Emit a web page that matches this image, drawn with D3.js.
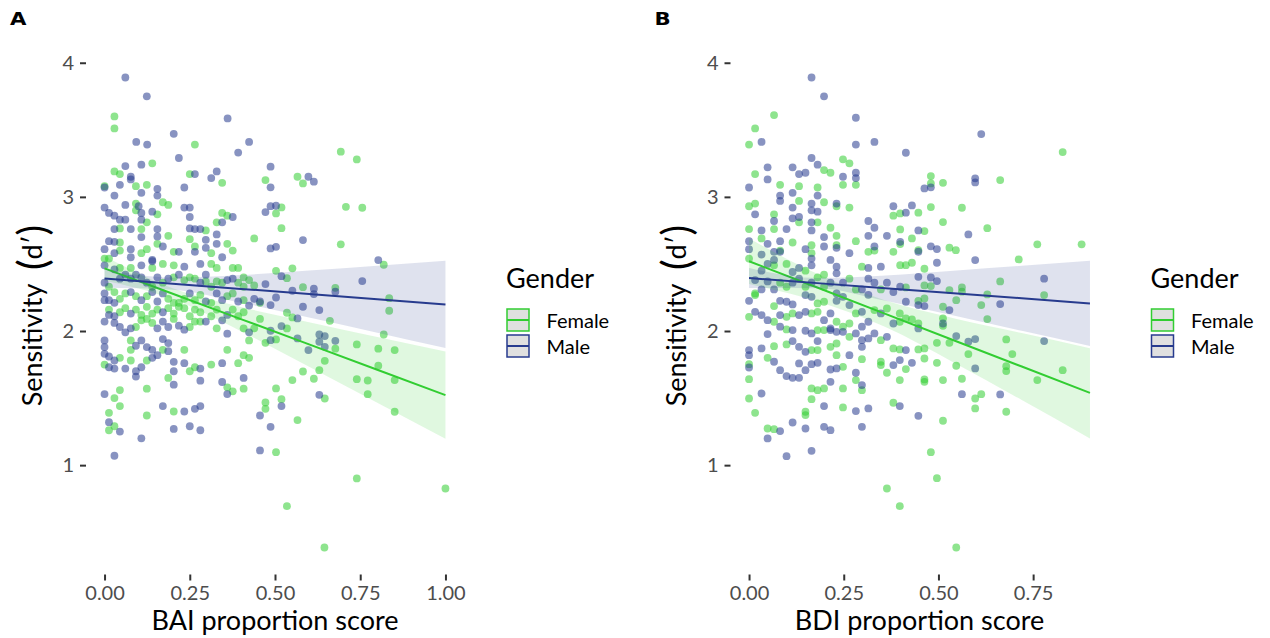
<!DOCTYPE html>
<html><head><meta charset="utf-8">
<script src="https://cdn.jsdelivr.net/npm/d3@7"></script>
<style>body{margin:0;background:#fff}svg text{font-family:Lato,"Open Sans",sans-serif}</style>
</head><body><svg id="c" width="1270" height="638"></svg>
<script>
const genders = ["Female", "Male"];
const genderColors = ["#32CD32", "#273B8E"];
const yTicks = [1, 2, 3, 4];
const baiTicks = [0, 0.25, 0.5, 0.75, 1];
const bdiTicks = [0, 0.25, 0.5, 0.75];
const baiRange = [0, 1];
const bdiRange = [0, 0.9];

const baiFemale = [[0.029,3.60],[0.029,3.51],[0.265,3.39],[0.140,3.25],[0.029,3.19],[0.045,3.17],[0.092,3.08],[0.124,3.09],[0.250,3.17],[0.345,3.105],[0,3.08],[0.092,2.95],[0.092,2.90],[0.124,2.81],[0.155,2.87],[0.171,2.96],[0.187,2.94],[0.345,2.88],[0.360,2.86],[0.329,2.81],[0.297,2.75],[0.250,2.685],[0.187,2.71],[0.108,2.76],[0.045,2.765],[0.045,2.66],[0.045,2.60],[0.108,2.58],[0.124,2.61],[0.155,2.65],[0.203,2.59],[0.265,2.63],[0.313,2.58],[0.360,2.65],[0.376,2.60],[0.439,2.69],[0,2.54],[0.013,2.54],
[0.045,2.47],[0.077,2.47],[0.140,2.47],[0.171,2.50],[0.203,2.49],[0.313,2.50],[0.329,2.47],[0.376,2.47],[0.392,2.47],[0.408,2.40],[0.013,2.33],[0.029,2.29],[0.140,2.33],[0.171,2.36],[0.203,2.40],[0.234,2.38],[0.250,2.40],[0.265,2.39],[0.297,2.37],[0.313,2.33],[0.329,2.37],[0.345,2.36],[0.392,2.36],[0.408,2.33],[0.424,2.38],[0.439,2.34],[0.045,2.24],[0.061,2.28],[0.092,2.26],[0.124,2.26],[0.187,2.24],[0.203,2.21],[0.218,2.21],[0.234,2.24],[0.265,2.23],[0.281,2.27],[0.313,2.21],[0.360,2.26],[0.376,2.28],[0.408,2.23],[0.456,2.21],[0.013,2.16],[0.045,2.14],[0.061,2.17],[0.092,2.16],[0.108,2.12],[0.124,2.18],[0.140,2.13],[0.155,2.16],[0.187,2.17],[0.203,2.13],[0.218,2.18],[0.234,2.17],[0.250,2.11],[0.265,2.16],[0.281,2.14],[0.313,2.11],[0.329,2.16],[0.376,2.16],[0.392,2.11],[0.408,2.14],[0.456,2.09],[0.092,2.03],[0.108,2.08],[0.124,2.09],[0.140,2.06],[0.203,2.09],[0.250,2.03],[0.265,2.07],[0.281,2.07],[0.329,2.02],[0.408,2.02],[0.439,2.02],[0,1.75],[0.077,1.93],[0.077,1.86],[0.171,1.86],[0.077,1.78],[0.045,1.80],[0.124,1.78],[0.234,1.86],[0.250,1.70],[0.265,1.73],[0.313,1.75],[0.360,1.86],[0.392,1.76],[0.408,1.82],[0.424,1.80],[0.424,1.93],[0.187,1.65],[0.029,1.50],[0.045,1.56],[0.124,1.57],[0.360,1.58],[0.376,1.55],[0.408,1.57],[0.013,1.39],[0.045,1.44],[0.203,1.40],[0.124,1.37],[0.029,1.29],[0.013,1.26],
[0.693,3.337],[0.740,3.279],[0.472,3.125],[0.566,3.150],[0.582,3.100],[0.519,2.921],[0.503,2.877],[0.708,2.926],[0.756,2.919],[0.519,2.767],[0.693,2.646],[0.819,2.494],[0.503,2.449],[0.551,2.467],[0.535,2.394],[0.582,2.327],[0.677,2.322],[0.835,2.245],[0.835,2.151],[0.535,2.136],[0.551,2.101],[0.661,2.076],
[0.535,2.019],[0.472,1.912],[0.503,1.937],[0.677,1.868],[0.740,1.900],[0.803,1.868],[0.851,1.858],[0.819,1.974],[0.646,1.778],[0.630,1.708],[0.582,1.698],[0.614,1.644],[0.551,1.634],[0.740,1.641],[0.772,1.631],[0.803,1.741],[0.851,1.634],[0.772,1.529],[0.503,1.572],[0.472,1.467],[0.472,1.420],[0.519,1.492],[0.566,1.336],[0.646,1.497],[0.851,1.398],[0.503,1.097],[0.740,0.901],[1.000,0.826],[0.535,0.694],[0.645,0.386]];

const baiMale = [[0.061,3.89],[0.124,3.75],[0.361,3.585],[0.203,3.47],[0.093,3.41],[0.125,3.39],[0.392,3.33],[0.424,3.41],[0.218,3.29],[0.108,3.24],[0.061,3.23],[0.077,3.15],[0.077,3.13],[0.045,3.09],[0.234,3.07],[0.265,3.17],[0.313,3.14],[0.329,3.19],[0,3.07],[0.029,3.01],[0.108,3.03],[0.155,3.06],[0.155,3.01],[0.061,2.94],[0,2.92],[0.013,2.88],[0.029,2.86],[0.045,2.83],[0.061,2.83],[0.100,2.93],[0.108,2.88],[0.140,2.89],[0.108,2.83],[0.234,2.92],[0.250,2.92],[0.250,2.85],[0.376,2.85],[0.345,2.81],[0.250,2.765],[0.265,2.76],[0.281,2.76],[0.329,2.72],[0.297,2.68],[0.155,2.76],[0.155,2.705],[0.108,2.70],[0.077,2.76],[0.029,2.76],[0.029,2.665],[0.013,2.67],[0,2.61],[0.029,2.58],[0.077,2.61],[0.140,2.53],[0.077,2.55],[0.171,2.63],[0.218,2.59],[0.265,2.59],[0.297,2.62],[0.329,2.65],[0.345,2.55],
[0,2.49],[0.029,2.46],[0.108,2.49],[0.140,2.52],[0.234,2.48],[0.281,2.50],[0.297,2.42],[0,2.36],[0.045,2.39],[0.061,2.42],[0.077,2.39],[0.092,2.42],[0.108,2.40],[0.124,2.36],[0.155,2.40],[0.187,2.39],[0.218,2.42],[0.281,2.36],[0.360,2.38],[0.376,2.39],[0.456,2.22],[0,2.28],[0,2.23],[0.013,2.23],[0.029,2.21],[0.077,2.29],[0.108,2.23],[0.140,2.29],[0.155,2.22],[0.171,2.28],[0.250,2.28],[0.297,2.22],[0.329,2.28],[0.345,2.23],[0.392,2.22],[0.424,2.19],[0.439,2.24],[0.013,2.12],[0.029,2.11],[0.077,2.13],[0.171,2.14],[0.297,2.07],[0.345,2.08],[0.360,2.12],[0,2.07],[0.029,2.06],[0.045,2.03],[0.061,1.99],[0.077,2.02],[0.155,2.02],[0.171,2.07],[0.187,2.03],[0.218,2.04],[0.234,2.01],[0.360,1.98],[0.424,1.99],[0,1.93],[0,1.88],[0,1.83],[0.013,1.81],[0.029,1.78],[0.013,1.73],[0.029,1.72],[0.061,1.72],[0.092,1.89],[0.108,1.93],[0.124,1.88],[0.140,1.86],[0.155,1.82],[0.171,1.94],[0.187,1.91],[0.187,1.85],[0.092,1.70],[0.108,1.73],[0.140,1.80],[0.203,1.77],[0.234,1.76],[0.281,1.72],[0.281,1.63],[0.345,1.76],[0.203,1.70],[0.092,1.66],[0,1.53],[0.203,1.60],[0.345,1.62],[0.360,1.53],[0.408,1.65],[0.456,1.37],[0.171,1.44],[0.234,1.40],[0.265,1.42],[0.281,1.44],[0.013,1.32],[0.045,1.25],[0.108,1.20],[0.203,1.27],[0.250,1.29],[0.281,1.26],[0.029,1.07],[0.456,1.11],
[0.487,3.225],[0.598,3.150],[0.614,3.113],[0.487,3.071],[0.487,2.931],[0.503,2.934],[0.472,2.887],[0.582,2.678],[0.487,2.616],[0.503,2.628],[0.803,2.529],[0.519,2.409],[0.472,2.350],[0.614,2.315],[0.677,2.293],[0.756,2.372],[0.551,2.300],[0.614,2.275],[0.503,2.250],[0.487,2.193],[0.582,2.181],[0.630,2.156],[0.566,2.094],
[0.519,2.037],[0.487,2.002],[0.487,1.932],[0.566,1.945],[0.630,1.974],[0.646,1.962],[0.630,1.920],[0.677,1.927],[0.646,1.882],[0.598,1.858],[0.519,1.440],[0.487,1.286],[0.630,1.524]];

const bdiFemale = [[0.066,3.61],[0.016,3.51],[0,3.39],[0.248,3.28],[0.265,3.25],[0.016,3.17],[0.198,3.20],[0.215,3.18],[0.248,3.09],[0.282,3.09],[0.082,3.09],[0.132,3.08],[0.181,3.07],[0.132,2.97],[0.198,2.96],[0,2.93],[0.016,2.95],[0.231,2.93],[0.265,2.92],[0.066,2.87],[0.132,2.81],[0.181,2.81],[0.215,2.77],[0.381,2.86],[0,2.76],[0.066,2.76],[0.231,2.71],[0.231,2.64],[0.282,2.67],[0.033,2.69],[0.082,2.60],[0.115,2.66],[0.165,2.64],[0.165,2.58],[0.315,2.59],[0.331,2.60],[0.381,2.59],[0,2.54],[0.066,2.49],[0.099,2.50],[0.149,2.45],[0.198,2.42],[0.265,2.39],[0.298,2.48],[0.016,2.28],[0.082,2.36],[0.099,2.33],[0.149,2.33],[0.181,2.40],[0.198,2.33],[0.282,2.31],[0.348,2.31],
[0.828,3.334],[0.480,3.155],[0.480,3.100],[0.512,3.105],[0.663,3.125],[0.399,2.877],[0.447,2.882],[0.480,2.924],[0.562,2.919],[0.512,2.812],[0.399,2.757],[0.463,2.745],[0.629,2.767],[0.399,2.648],[0.430,2.690],[0.447,2.603],[0.529,2.621],[0.546,2.603],[0.761,2.646],[0.878,2.646],[0.712,2.534],[0.399,2.491],[0.414,2.491],[0.430,2.509],[0.463,2.464],[0.663,2.370],[0.463,2.340],[0.480,2.335],[0.414,2.325],[0.562,2.325],[0.529,2.305],[0.562,2.293],[0.629,2.273],[0.779,2.268],
[0.016,2.268],[0.066,2.186],[0.181,2.206],[0.198,2.218],[0.282,2.131],[0.331,2.156],[0.364,2.168],[0.398,2.131],[0,2.106],[0.066,2.069],[0.099,2.106],[0.115,2.131],[0.165,2.131],[0.181,2.143],[0.231,2.069],[0.248,2.032],[0.265,2.056],[0.348,1.932],[0.398,2.069],[0.099,2.012],[0.181,2.007],[0.198,2.007],[0.265,1.957],[0.165,1.858],[0.181,1.858],[0.215,1.882],[0.231,1.907],[0.231,1.820],[0.298,1.790],[0.348,1.771],[0.381,1.870],[0.398,1.863],[0.066,1.887],[0.099,1.900],[0.049,1.800],[0,1.753],[0.248,1.733],[0.282,1.634],[0.298,1.559],[0.348,1.746],[0.364,1.689],[0.398,1.634],[0,1.641],[0.165,1.572],[0.165,1.492],[0.181,1.559],[0.198,1.572],[0.248,1.572],[0,1.497],[0.016,1.390],[0.248,1.430],[0.381,1.465],[0.149,1.398],[0.149,1.373],[0.049,1.273],[0.066,1.268],[0.364,0.826],[0.398,0.694],
[0.447,2.225],[0.463,2.243],[0.512,2.181],[0.547,2.230],[0.613,2.193],[0.629,2.089],[0.414,2.094],[0.430,2.086],[0.447,2.056],[0.512,2.094],[0.512,2.039],[0.496,1.912],[0.529,1.912],[0.579,1.828],[0.679,1.937],[0.695,1.828],[0.447,1.863],[0.463,1.870],[0.463,1.795],[0.496,1.763],[0.547,1.741],[0.679,1.738],[0.679,1.701],[0.828,1.708],[0.761,1.634],[0.414,1.716],[0.463,1.639],[0.463,1.621],[0.512,1.634],[0.562,1.644],[0.597,1.497],[0.613,1.529],[0.597,1.423],[0.679,1.398],[0.512,1.331],[0.480,1.097],[0.496,0.903],[0.547,0.386]];

const bdiMale = [[0.165,3.89],[0.198,3.75],[0.033,3.41],[0.282,3.59],[0.282,3.39],[0.331,3.41],[0.165,3.29],[0.181,3.24],[0.049,3.22],[0.115,3.22],[0.049,3.13],[0.132,3.17],[0.149,3.18],[0.248,3.15],[0.282,3.18],[0.282,3.14],[0,3.07],[0.115,3.03],[0.082,3.01],[0.082,2.97],[0.181,3.01],[0.016,2.87],[0.115,2.92],[0.165,2.95],[0.165,2.90],[0.181,2.89],[0.231,2.95],[0.066,2.82],[0.115,2.84],[0.132,2.85],[0.165,2.81],[0.315,2.82],[0.331,2.77],[0.381,2.93],[0.033,2.75],[0.099,2.76],[0.165,2.75],[0.198,2.70],[0.231,2.62],[0.315,2.71],[0.331,2.63],[0.364,2.71],[0,2.67],[0,2.61],[0.049,2.65],[0.066,2.59],[0.082,2.67],[0.149,2.61],[0.198,2.63],[0.265,2.58],[0.033,2.57],[0.033,2.45],[0.049,2.50],[0.066,2.53],[0.082,2.59],[0.115,2.44],[0.132,2.47],[0.165,2.54],[0.165,2.49],[0.215,2.53],[0.231,2.48],[0.231,2.43],[0.248,2.36],[0.315,2.47],[0.315,2.39],[0.348,2.48],[0.364,2.36],[0.381,2.29],[0.016,2.38],[0.033,2.31],[0.049,2.37],[0.066,2.31],[0.115,2.36],[0.132,2.39],[0.165,2.36],[0.215,2.36],[0.231,2.28],[0.298,2.31],[0.331,2.36],
[0.613,3.468],[0.414,3.329],[0.463,3.063],[0.480,3.071],[0.597,3.138],[0.597,3.108],[0.430,2.936],[0.414,2.882],[0.447,2.750],[0.579,2.720],[0.399,2.665],[0.447,2.591],[0.480,2.631],[0.496,2.611],[0.496,2.509],[0.597,2.529],[0.447,2.404],[0.480,2.399],[0.496,2.372],[0.779,2.390],[0.399,2.330],
[0,2.225],[0.082,2.225],[0.099,2.218],[0.115,2.198],[0.149,2.268],[0.165,2.255],[0.215,2.131],[0.231,2.225],[0.248,2.255],[0.265,2.193],[0.298,2.143],[0.315,2.27],[0.348,2.131],[0.016,2.143],[0.033,2.119],[0.049,2.081],[0.082,2.119],[0.132,2.119],[0.149,2.143],[0.198,2.081],[0.215,2.019],[0.282,1.982],[0.298,2.032],[0.315,2.069],[0.331,1.982],[0.364,1.957],[0.381,2.056],[0.082,2.032],[0.115,2.007],[0.149,2.002],[0.165,1.982],[0.215,2.007],[0.231,1.994],[0.248,1.994],[0.298,1.932],[0.298,1.882],[0.315,1.945],[0.049,1.977],[0.115,1.925],[0.181,1.925],[0.132,1.882],[0.149,1.845],[0.265,1.820],[0,1.858],[0,1.820],[0.033,1.870],[0.066,1.771],[0,1.728],[0.082,1.708],[0.099,1.664],[0.115,1.651],[0.132,1.651],[0.132,1.758],[0.149,1.708],[0.165,1.753],[0.181,1.763],[0.215,1.713],[0.231,1.721],[0.282,1.689],[0.298,1.597],[0.381,1.746],[0.398,1.783],[0.215,1.621],[0.033,1.534],[0.198,1.440],[0.282,1.403],[0.315,1.423],[0.398,1.440],[0.115,1.318],[0.149,1.273],[0.198,1.286],[0.215,1.261],[0.298,1.286],[0.082,1.254],[0.049,1.199],[0.099,1.067],[0.165,1.107],
[0.414,2.218],[0.447,2.193],[0.463,2.186],[0.529,2.156],[0.663,2.201],[0.447,2.019],[0.512,2.056],[0.547,1.962],[0.579,1.920],[0.597,1.940],[0.779,1.925],[0.414,1.858],[0.430,1.763],[0.597,1.721],[0.562,1.529],[0.663,1.527],[0.447,1.368]];

// fitted line and confidence band: [x, fit, lower, upper]
const baiFitFemale = [[0,2.467,2.377,2.557],[0.2,2.278,2.238,2.318],[0.4,2.089,1.999,2.179],[0.6,1.900,1.734,2.066],[0.8,1.711,1.466,1.956],[1.0,1.522,1.197,1.847]];
const baiFitMale = [[0,2.392,2.322,2.462],[0.2,2.353,2.308,2.398],[0.4,2.314,2.211,2.417],[0.6,2.276,2.100,2.451],[0.8,2.237,1.987,2.487],[1.0,2.198,1.873,2.523]];
const bdiFitFemale = [[0,2.52,2.35,2.69],[0.18,2.324,2.222,2.426],[0.36,2.128,2.029,2.227],[0.54,1.931,1.766,2.096],[0.72,1.735,1.485,1.985],[0.9,1.539,1.199,1.872]];
const bdiFitMale = [[0,2.395,2.32,2.47],[0.18,2.357,2.319,2.395],[0.36,2.319,2.225,2.413],[0.54,2.282,2.115,2.449],[0.72,2.244,2.002,2.486],[0.9,2.206,1.889,2.523]];

const svg = d3.select("#c");
const plotTop = 54, plotBottom = 571, pw = 375;

function drawPanel(o) {
  const g = svg.append("g");
  const [x0, x1] = o.range, xp = (x1 - x0) * 0.05;
  const x = d3.scaleLinear().domain([x0 - xp, x1 + xp]).range([o.left, o.left + pw]);
  const all = o.female.concat(o.male);
  const [y0, y1] = d3.extent(all, d => d[1]), yp = (y1 - y0) * 0.05;
  const y = d3.scaleLinear().domain([y0 - yp, y1 + yp]).range([plotBottom, plotTop]);

  const ya = g.append("g").attr("transform", `translate(${o.left - 1.5},0)`)
    .call(d3.axisLeft(y).tickValues(yTicks).tickSize(6).tickPadding(6).tickFormat(d3.format("d")));
  ya.select(".domain").remove();
  ya.selectAll("line").attr("stroke", "#333").attr("stroke-width", 2);
  ya.selectAll("text").attr("fill", "#4D4D4D").style("font-size", "20px").attr("font-family", null);

  const xa = g.append("g").attr("transform", `translate(0,${plotBottom + 3.5})`)
    .call(d3.axisBottom(x).tickValues(o.ticks).tickSize(6).tickPadding(5).tickFormat(d3.format(".2f")));
  xa.select(".domain").remove();
  xa.selectAll("line").attr("stroke", "#333").attr("stroke-width", 2);
  xa.selectAll("text").attr("fill", "#4D4D4D").style("font-size", "20px").attr("font-family", null);

  [o.female, o.male].forEach((pts, i) => {
    g.append("g").selectAll("circle").data(pts).join("circle")
      .attr("cx", d => x(d[0])).attr("cy", d => y(d[1])).attr("r", 3.9)
      .attr("fill", genderColors[i]).attr("fill-opacity", 0.55);
  });

  [o.fitF, o.fitM].forEach((fit, i) => {
    const area = d3.area().x(d => x(d[0])).y0(d => y(d[2])).y1(d => y(d[3])).curve(d3.curveMonotoneX);
    g.append("path").attr("d", area(fit)).attr("fill", genderColors[i]).attr("fill-opacity", 0.15);
    const line = d3.line().x(d => x(d[0])).y(d => y(d[1]));
    g.append("path").attr("d", line(fit)).attr("fill", "none").attr("stroke", genderColors[i]).attr("stroke-width", 2);
  });

  g.append("text").attr("x", o.left + pw / 2).attr("y", 630).attr("text-anchor", "middle")
    .style("font-size", "27px").attr("fill", "#000").text(o.xTitle);
  const yt = g.append("text").attr("transform", `translate(${o.left - 46},${(plotTop + plotBottom) / 2 + 3}) rotate(-90)`)
    .attr("text-anchor", "middle").style("font-size", "27px").attr("fill", "#000");
  yt.append("tspan").text("Sensitivity\u2002");
  yt.append("tspan").style("font-size", "40px").attr("dy", 5).text("(");
  yt.append("tspan").attr("dy", -5).text("d′");
  yt.append("tspan").style("font-size", "40px").attr("dy", 5).text(")");

  const lx = o.left + pw + 43.5;
  g.append("text").attr("x", lx).attr("y", 288).style("font-size", "27px").attr("fill", "#000").text("Gender");
  genders.forEach((name, i) => {
    const ky = 309 + i * 26;
    g.append("rect").attr("x", lx + 1).attr("y", ky).attr("width", 22).attr("height", 22)
      .attr("fill", "#E0E0E0").attr("stroke", genderColors[i]).attr("stroke-width", 1.5);
    g.append("line").attr("x1", lx + 1).attr("x2", lx + 23).attr("y1", ky + 11).attr("y2", ky + 11)
      .attr("stroke", genderColors[i]).attr("stroke-width", 2);
    g.append("text").attr("x", lx + 40.5).attr("y", ky + 18.5).style("font-size", "20px").attr("fill", "#000").text(name);
  });

  g.append("text").attr("transform", `translate(${o.left - 77.5},${25}) scale(1.25,1)`)
    .style("font-family", "'DejaVu Sans',sans-serif").style("font-weight", "900").style("font-size", "17px")
    .attr("fill", "#000").text(o.tag);
}

drawPanel({left: 87.5, range: baiRange, ticks: baiTicks, female: baiFemale, male: baiMale,
  fitF: baiFitFemale, fitM: baiFitMale, xTitle: "BAI proportion score", tag: "A"});
drawPanel({left: 732, range: bdiRange, ticks: bdiTicks, female: bdiFemale, male: bdiMale,
  fitF: bdiFitFemale, fitM: bdiFitMale, xTitle: "BDI proportion score", tag: "B"});
</script></body></html>
